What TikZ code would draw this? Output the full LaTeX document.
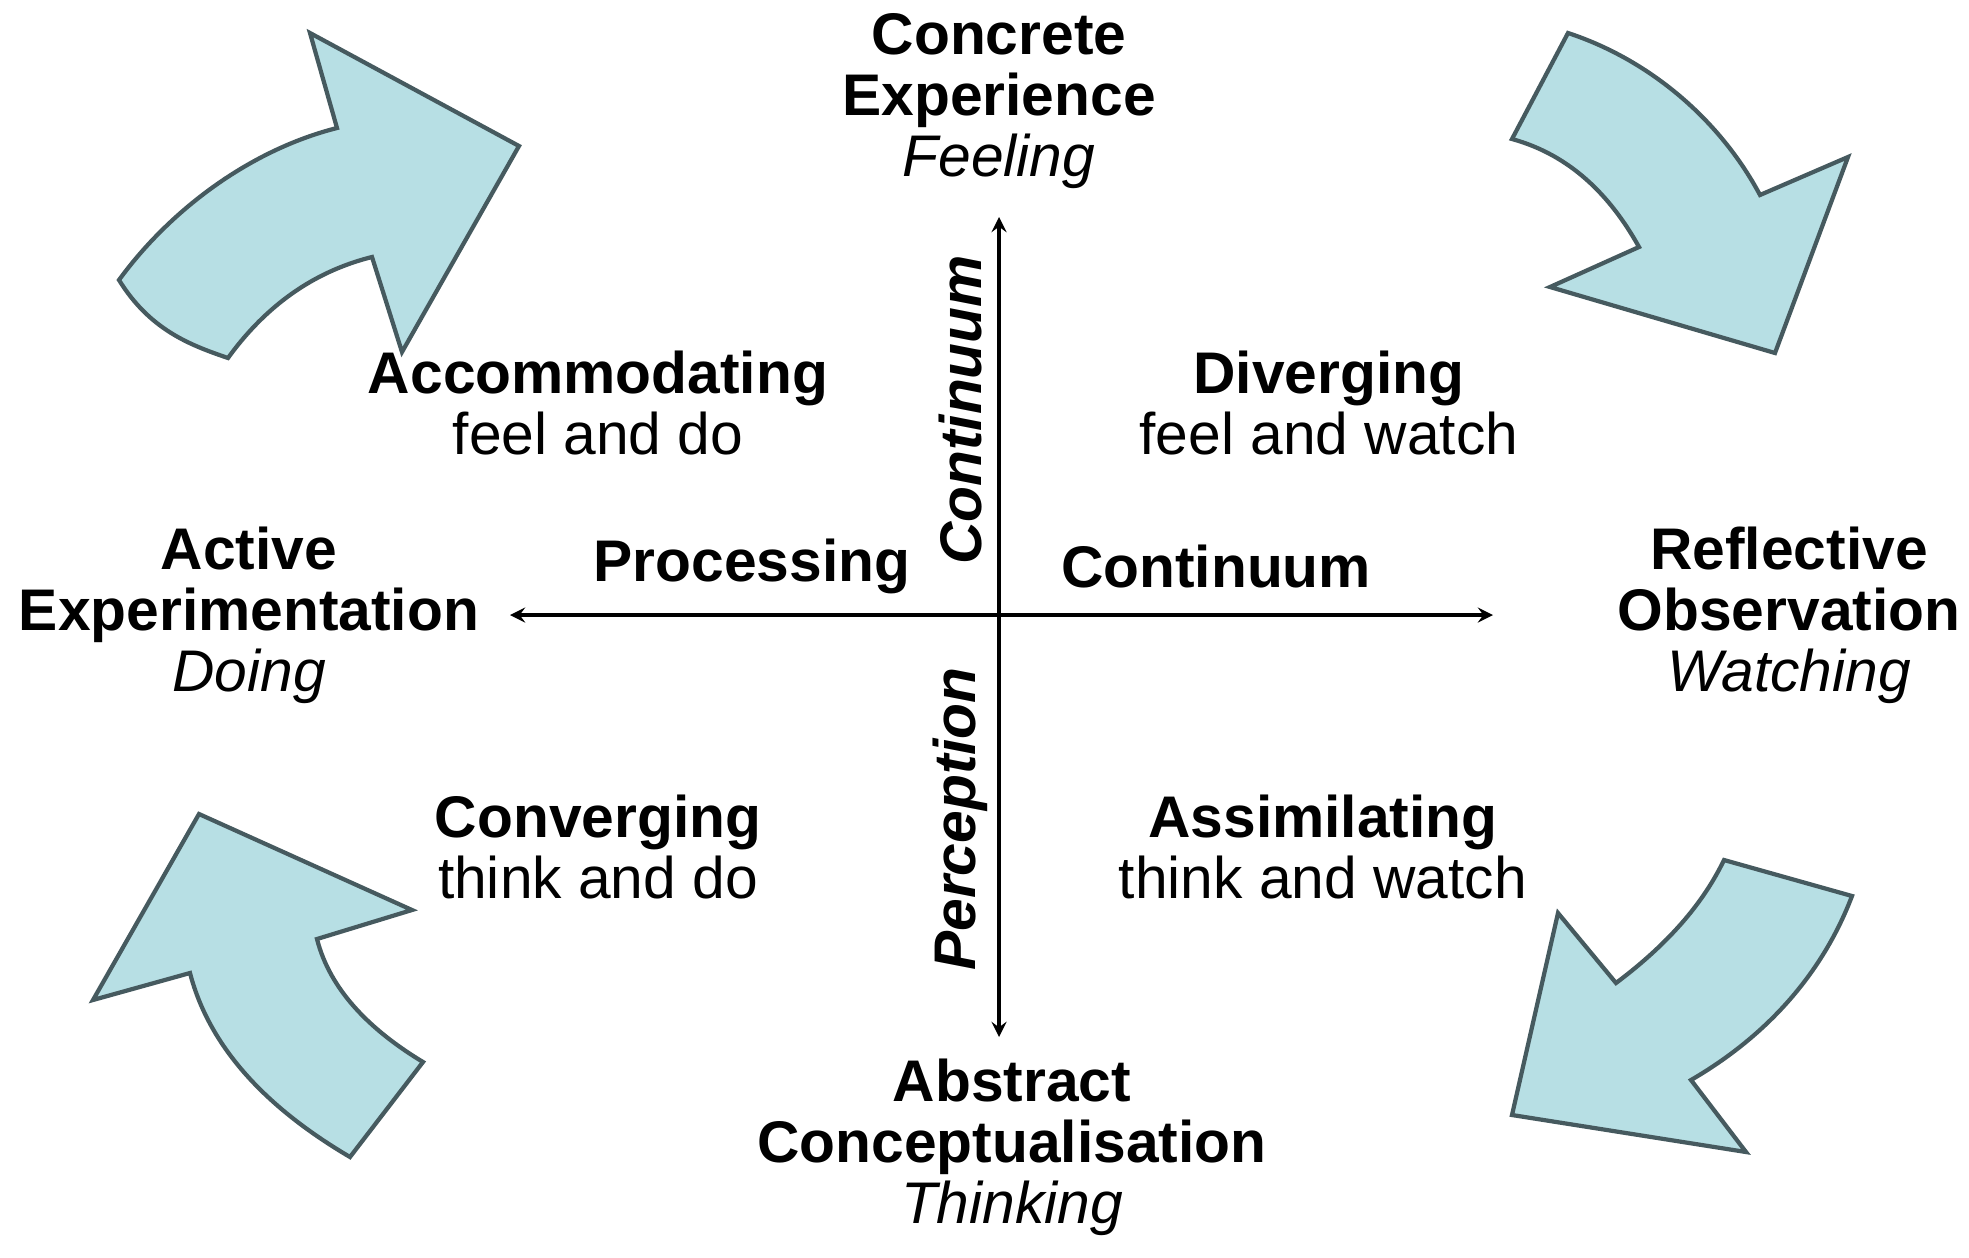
\documentclass[tikz,border=0pt]{standalone}
\usepackage{fontspec}
\setmainfont{Liberation Sans}
\begin{document}
\begin{tikzpicture}[x=0.01cm,y=-0.01cm,
  arr/.style={fill={rgb,255:red,183;green,223;blue,228},draw={rgb,255:red,70;green,90;blue,95},line width=1.2pt,line join=miter},
  lbl/.style={align=center,font=\fontsize{16.7}{17.4}\selectfont,inner sep=0pt},
  axis/.style={line width=0.9pt,-stealth}]
\useasboundingbox (0,0) rectangle (1969,1257);
% curved arrows
\draw[arr] (119,280) .. controls (150,330) and (190,345) .. (228,358)
  .. controls (270,300) and (320,270) .. (372,257) -- (402,352) -- (519,146) -- (310,33) -- (337,128)
  .. controls (250,150) and (170,210) .. cycle;
\draw[arr] (1568,33) .. controls (1650,60) and (1720,120) .. (1760,195) -- (1848,157) -- (1775,353) -- (1550,287) -- (1639,247)
  .. controls (1610,195) and (1570,155) .. (1512,139) -- cycle;
\draw[arr] (199,814) -- (412,910) -- (317,939) .. controls (330,990) and (370,1030) .. (423,1062) -- (350,1157)
  .. controls (270,1110) and (210,1050) .. (190,973) -- (93,1000) -- cycle;
\draw[arr] (1724,860) -- (1852,896) .. controls (1820,980) and (1760,1040) .. (1691,1080) -- (1746,1152) -- (1512,1115) -- (1558,913) -- (1616,983)
  .. controls (1660,950) and (1700,910) .. cycle;
% axes
\coordinate (c) at (999,615);
\coordinate (top) at (999,217);
\coordinate (bot) at (999,1037);
\coordinate (lft) at (510,615);
\coordinate (rgt) at (1493,615);
\draw[axis] (c) -- (top);
\draw[axis] (c) -- (bot);
\draw[axis] (c) -- (lft);
\draw[axis] (c) -- (rgt);
% labels
\node[lbl] (ce) at (999,101) {\textbf{Concrete}\\\textbf{Experience}\\\textit{Feeling}};
\node[lbl] (ae) at (249,615) {\textbf{Active}\\\textbf{Experimentation}\\\textit{Doing}};
\node[lbl] (ro) at (1789,615) {\textbf{Reflective}\\\textbf{Observation}\\\textit{Watching}};
\node[lbl] (ac) at (1012,1147) {\textbf{Abstract}\\\textbf{Conceptualisation}\\\textit{Thinking}};
\node[lbl] (acc) at (598,403) {\textbf{Accommodating}\\feel and do};
\node[lbl] (div) at (1329,403) {\textbf{Diverging}\\feel and watch};
\node[lbl] (con) at (598,847) {\textbf{Converging}\\think and do};
\node[lbl] (ass) at (1323,847) {\textbf{Assimilating}\\think and watch};
\node[lbl] (proc) at (752,566) {\textbf{Processing}};
\node[lbl] (cont) at (1216,566) {\textbf{Continuum}};
\node[lbl,rotate=90] (vc) at (960,410) {\textbf{\textit{Continuum}}};
\node[lbl,rotate=90] (per) at (960,819) {\textbf{\textit{Perception}}};
\end{tikzpicture}
\end{document}
